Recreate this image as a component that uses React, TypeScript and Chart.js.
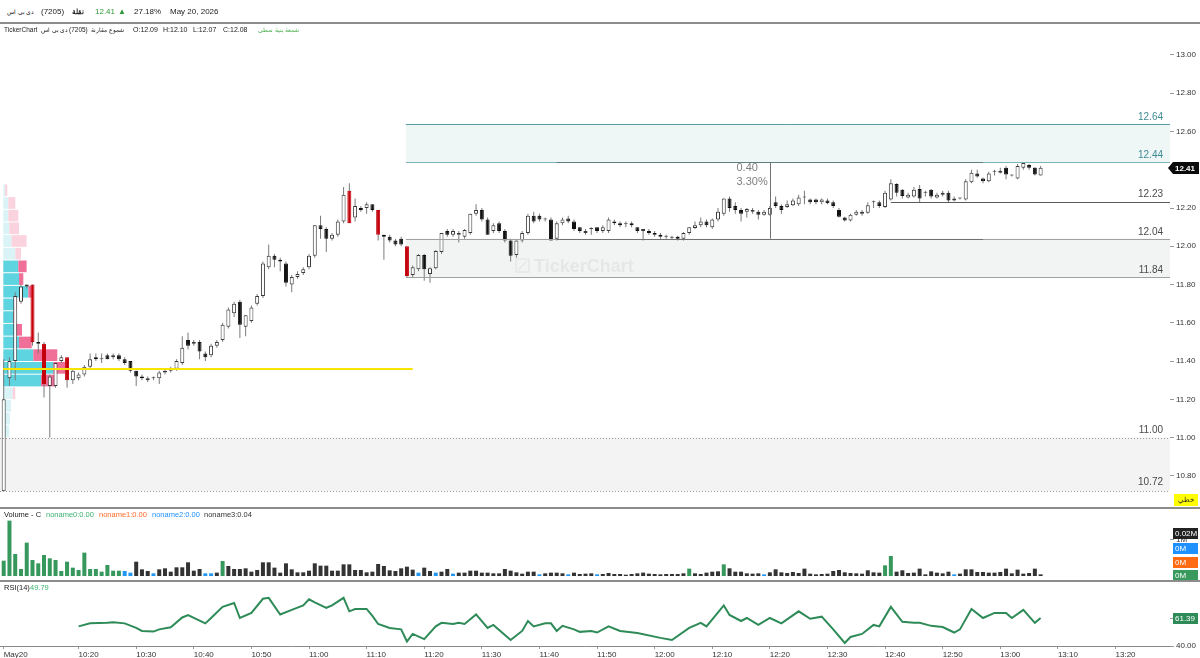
import React, { useEffect, useRef } from "react";
import { Chart, registerables } from "chart.js";

Chart.register(...registerables);

const FONT = '"Liberation Sans", Arial, sans-serif';

// ---------- price candles (1-minute) ----------
const candleOpen = [
  10.72, 11.31, 11.40, 11.71, 11.79, 11.80, 11.50, 11.49, 11.27, 11.27,
  11.40, 11.42, 11.30, 11.31, 11.33, 11.37, 11.42, 11.41, 11.43, 11.42,
  11.43, 11.41, 11.40, 11.35, 11.32, 11.30, 11.31, 11.31, 11.34, 11.35,
  11.36, 11.39, 11.51, 11.49, 11.50, 11.44, 11.43, 11.48, 11.51, 11.58,
  11.65, 11.71, 11.58, 11.61, 11.70, 11.74, 11.89, 11.95, 11.93, 11.91,
  11.80, 11.84, 11.86, 11.89, 11.95, 12.11, 12.09, 12.04, 12.06, 12.13,
  12.29, 12.15, 12.20, 12.20, 12.22, 12.19, 12.06, 12.05, 12.03, 12.04,
  12.00, 11.85, 11.88, 11.955, 11.855, 11.885, 11.97, 12.08, 12.06, 12.06,
  12.05, 12.07, 12.17, 12.19, 12.14, 12.08, 12.12, 12.08, 12.03, 11.955,
  12.03, 12.07, 12.16, 12.16, 12.14, 12.14, 12.04, 12.12, 12.145, 12.13,
  12.10, 12.07, 12.09, 12.10, 12.08, 12.08, 12.13, 12.12, 12.115, 12.12,
  12.10, 12.08, 12.08, 12.07, 12.06, 12.05, 12.045, 12.05, 12.04, 12.07,
  12.095, 12.11, 12.13, 12.10, 12.14, 12.17, 12.25, 12.21, 12.19, 12.18,
  12.18, 12.18, 12.165, 12.165, 12.23, 12.21, 12.205, 12.215, 12.22, 12.255,
  12.245, 12.245, 12.23, 12.24, 12.23, 12.19, 12.15, 12.135, 12.165, 12.17,
  12.175, 12.23, 12.23, 12.205, 12.245, 12.326, 12.295, 12.255, 12.26, 12.30,
  12.28, 12.295, 12.255, 12.27, 12.28, 12.24, 12.25, 12.245, 12.335, 12.38,
  12.355, 12.34, 12.39, 12.385, 12.41, 12.37, 12.355, 12.41, 12.425, 12.41, 12.37,
];
const candleHigh = [
  11.41, 11.42, 11.76, 11.80, 11.80, 11.80, 11.55, 11.50, 11.33, 11.39,
  11.43, 11.42, 11.36, 11.34, 11.38, 11.44, 11.44, 11.44, 11.44, 11.44,
  11.44, 11.42, 11.40, 11.35, 11.33, 11.32, 11.32, 11.35, 11.36, 11.37,
  11.41, 11.53, 11.55, 11.51, 11.51, 11.45, 11.49, 11.51, 11.60, 11.68,
  11.71, 11.72, 11.64, 11.69, 11.75, 11.92, 12.01, 11.96, 11.94, 11.92,
  11.85, 11.87, 11.89, 11.96, 12.11, 12.16, 12.10, 12.07, 12.14, 12.31,
  12.33, 12.25, 12.21, 12.23, 12.22, 12.19, 12.06, 12.06, 12.04, 12.05,
  12.00, 11.90, 11.96, 11.96, 11.89, 11.98, 12.07, 12.09, 12.09, 12.08,
  12.09, 12.17, 12.22, 12.20, 12.15, 12.12, 12.13, 12.09, 12.04, 12.03,
  12.08, 12.17, 12.18, 12.17, 12.15, 12.15, 12.13, 12.15, 12.16, 12.14,
  12.10, 12.09, 12.10, 12.10, 12.11, 12.15, 12.14, 12.13, 12.13, 12.13,
  12.10, 12.09, 12.09, 12.08, 12.07, 12.06, 12.055, 12.055, 12.075, 12.10,
  12.13, 12.15, 12.14, 12.145, 12.20, 12.25, 12.26, 12.23, 12.20, 12.20,
  12.20, 12.19, 12.19, 12.21, 12.26, 12.22, 12.24, 12.25, 12.27, 12.29,
  12.25, 12.25, 12.25, 12.25, 12.24, 12.20, 12.155, 12.17, 12.19, 12.19,
  12.23, 12.24, 12.24, 12.29, 12.35, 12.33, 12.30, 12.28, 12.31, 12.32,
  12.29, 12.30, 12.28, 12.29, 12.29, 12.26, 12.255, 12.35, 12.40, 12.40,
  12.36, 12.39, 12.40, 12.41, 12.42, 12.375, 12.43, 12.44, 12.43, 12.415, 12.42,
];
const candleLow = [
  10.72, 11.27, 11.30, 11.70, 11.78, 11.48, 11.44, 11.21, 11.00, 11.26,
  11.39, 11.26, 11.28, 11.30, 11.32, 11.36, 11.40, 11.39, 11.41, 11.41,
  11.40, 11.38, 11.34, 11.27, 11.30, 11.29, 11.30, 11.28, 11.33, 11.34,
  11.35, 11.38, 11.46, 11.48, 11.41, 11.40, 11.42, 11.47, 11.50, 11.57,
  11.63, 11.52, 11.53, 11.60, 11.69, 11.73, 11.88, 11.89, 11.87, 11.79,
  11.76, 11.83, 11.85, 11.88, 11.94, 12.04, 11.97, 12.03, 12.05, 12.12,
  12.12, 12.13, 12.18, 12.17, 12.18, 12.03, 11.93, 12.02, 12.00, 12.00,
  11.84, 11.84, 11.87, 11.82, 11.81, 11.88, 11.96, 12.05, 12.05, 12.02,
  12.04, 12.06, 12.16, 12.13, 12.06, 12.07, 12.07, 12.02, 11.92, 11.94,
  12.02, 12.06, 12.12, 12.13, 12.13, 12.03, 12.03, 12.11, 12.12, 12.08,
  12.07, 12.06, 12.06, 12.07, 12.07, 12.07, 12.11, 12.10, 12.10, 12.10,
  12.07, 12.03, 12.06, 12.05, 12.04, 12.04, 12.035, 12.03, 12.03, 12.06,
  12.09, 12.10, 12.10, 12.09, 12.13, 12.16, 12.18, 12.17, 12.13, 12.15,
  12.17, 12.14, 12.16, 12.16, 12.20, 12.17, 12.20, 12.21, 12.21, 12.22,
  12.22, 12.22, 12.22, 12.22, 12.20, 12.15, 12.13, 12.13, 12.16, 12.16,
  12.17, 12.20, 12.20, 12.20, 12.24, 12.26, 12.25, 12.25, 12.255, 12.23,
  12.26, 12.25, 12.25, 12.26, 12.23, 12.235, 12.245, 12.24, 12.33, 12.36,
  12.33, 12.335, 12.37, 12.38, 12.35, 12.365, 12.35, 12.40, 12.40, 12.37, 12.37,
];
const candleClose = [
  11.20, 11.40, 11.74, 11.79, 11.80, 11.50, 11.49, 11.28, 11.32, 11.39,
  11.42, 11.30, 11.35, 11.33, 11.37, 11.41, 11.41, 11.41, 11.41, 11.43,
  11.41, 11.39, 11.35, 11.32, 11.31, 11.31, 11.31, 11.34, 11.35, 11.36,
  11.40, 11.47, 11.48, 11.50, 11.45, 11.42, 11.48, 11.50, 11.59, 11.67,
  11.70, 11.59, 11.64, 11.68, 11.74, 11.91, 11.95, 11.93, 11.92, 11.81,
  11.84, 11.855, 11.88, 11.95, 12.11, 12.09, 12.04, 12.06, 12.13, 12.27,
  12.12, 12.21, 12.19, 12.22, 12.19, 12.06, 12.05, 12.03, 12.01, 12.01,
  11.845, 11.89, 11.955, 11.88, 11.885, 11.975, 12.07, 12.06, 12.08, 12.07,
  12.085, 12.17, 12.19, 12.14, 12.06, 12.11, 12.08, 12.03, 11.95, 12.03,
  12.07, 12.16, 12.13, 12.14, 12.14, 12.03, 12.12, 12.14, 12.13, 12.09,
  12.08, 12.08, 12.095, 12.08, 12.10, 12.14, 12.12, 12.11, 12.115, 12.11,
  12.08, 12.09, 12.07, 12.06, 12.05, 12.05, 12.045, 12.04, 12.07, 12.10,
  12.11, 12.13, 12.11, 12.14, 12.18, 12.25, 12.20, 12.19, 12.17, 12.195,
  12.19, 12.165, 12.18, 12.20, 12.21, 12.19, 12.22, 12.24, 12.255, 12.255,
  12.23, 12.23, 12.245, 12.225, 12.21, 12.155, 12.135, 12.165, 12.18, 12.18,
  12.215, 12.23, 12.21, 12.28, 12.33, 12.28, 12.263, 12.27, 12.295, 12.25,
  12.28, 12.26, 12.27, 12.28, 12.24, 12.25, 12.25, 12.34, 12.385, 12.365,
  12.34, 12.38, 12.39, 12.395, 12.375, 12.37, 12.42, 12.435, 12.41, 12.375, 12.41,
];
const redCandleIndex = [5, 7, 11, 60, 65, 70];

// ---------- volume (thousand shares) ----------
const volumeK = [
  426, 1538, 612, 195, 927, 445, 352, 584, 491, 445,
  139, 398, 232, 167, 649, 195, 195, 120, 306, 148,
  148, 139, 93, 398, 185, 139, 74, 185, 213, 120,
  241, 241, 380, 148, 195, 74, 74, 93, 417, 278,
  195, 195, 213, 120, 167, 380, 380, 232, 93, 352,
  185, 102, 102, 148, 352, 287, 287, 148, 148, 324,
  324, 167, 167, 102, 120, 334, 278, 158, 139, 213,
  259, 176, 93, 232, 139, 93, 120, 195, 65, 93,
  93, 148, 148, 93, 93, 74, 74, 195, 148, 102,
  65, 120, 120, 46, 74, 93, 93, 74, 46, 93,
  56, 65, 74, 46, 56, 83, 56, 56, 37, 56,
  74, 93, 65, 56, 46, 56, 56, 56, 74, 204,
  74, 56, 93, 120, 130, 324, 213, 120, 120, 74,
  65, 74, 46, 102, 185, 102, 83, 111, 83, 204,
  65, 46, 56, 65, 139, 167, 102, 83, 74, 65,
  158, 102, 93, 296, 556, 120, 158, 83, 93, 204,
  46, 130, 93, 74, 120, 46, 65, 185, 185, 111,
  111, 93, 93, 111, 204, 74, 176, 65, 83, 204, 46,
];
const greenVolumeIndex = [0, 1, 2, 3, 4, 5, 6, 7, 8, 9, 10, 11, 12, 13, 14, 15, 16, 17, 18, 19, 20, 38, 119, 125, 153, 154];
const blueVolumeIndex = [21, 22, 26, 35, 36, 72, 75, 78, 93, 98, 103, 132, 165];

// ---------- RSI(14) read points ----------
const rsiIndex = [13, 15, 18, 19, 21, 23, 24, 26, 27, 29, 31, 32, 35, 36, 38, 40, 41, 43, 45, 46, 48, 50, 52, 53, 54, 56, 57, 59, 60, 61, 63, 64, 65, 67, 69, 70, 71, 73, 75, 76, 78, 79, 80, 82, 84, 85, 88, 90, 91, 92, 94, 95, 96, 97, 99, 100, 102, 103, 105, 107, 110, 114, 116, 119, 121, 122, 125, 126, 128, 129, 131, 133, 135, 138, 140, 142, 144, 146, 147, 149, 151, 152, 154, 156, 158, 159, 161, 163, 165, 166, 168, 170, 172, 174, 175, 177, 179, 180];
const rsiValue = [55.0, 57.3, 57.7, 58.2, 57.3, 53.8, 51.5, 51.0, 52.7, 54.3, 61.8, 63.7, 57.3, 61.4, 69.9, 72.9, 61.4, 65.3, 76.1, 76.8, 64.1, 67.6, 71.0, 75.7, 73.4, 69.2, 71.0, 76.8, 66.5, 68.3, 68.3, 63.0, 56.8, 53.8, 52.7, 43.4, 49.2, 45.3, 55.0, 57.7, 56.8, 57.7, 56.8, 64.1, 53.8, 56.1, 44.6, 51.5, 59.1, 55.0, 57.3, 57.3, 51.5, 55.4, 52.7, 50.8, 51.5, 50.3, 55.0, 51.5, 49.9, 46.2, 44.6, 53.8, 57.7, 55.0, 71.0, 63.7, 59.1, 61.4, 56.1, 61.4, 57.3, 66.5, 60.8, 62.4, 52.7, 42.3, 46.9, 49.2, 56.1, 55.0, 69.9, 58.5, 57.7, 57.7, 55.4, 54.5, 50.3, 52.7, 68.3, 61.4, 65.3, 65.3, 61.4, 67.6, 57.7, 61.39];

// ---------- volume profile (bottom row first) ----------
const profileBottom = 11.0;
const profileStep = 0.0663;
const profileUp = [60, 67, 77, 93, 377, 500, 300, 157, 127, 100, 107, 250, 157, 150, 120, 83, 60, 50, 50, 17];
const profileDown = [0, 0, 0, 27, 140, 117, 240, 127, 60, 27, 27, 33, 43, 83, 57, 150, 97, 100, 70, 23];
const valueAreaRows = [4, 13];

// ---------- axes ----------
const priceTicks = [10.8, 11.0, 11.2, 11.4, 11.6, 11.8, 12.0, 12.2, 12.4, 12.6, 12.8, 13.0];
const timeTickIndex = [0, 13, 23, 33, 43, 53, 63, 73, 83, 93, 103, 113, 123, 133, 143, 153, 163, 173, 183, 193];
const timeTickLabels = ["May20", "10:20", "10:30", "10:40", "10:50", "11:00", "11:10", "11:20", "11:30", "11:40", "11:50", "12:00", "12:10", "12:20", "12:30", "12:40", "12:50", "13:00", "13:10", "13:20"];

// ---------- drawings ----------
const tealZone = [12.44, 12.64];
const grayZone = [11.84, 12.04];
const lowerZone = [10.72, 11.0];
const supportLevel = 12.23;
const yellowLevel = 11.36;
const measureLabels = ["0.40", "3.30%"];
const zoneStartIndex = 69.8;
const measureFrom = 96;
const measureTo = 170;
const measureAt = 133;
const supportFrom = 154;
const yellowTo = 71;

const X_MIN = -0.642;
const X_MAX = 202.46;

const hline = (ctx: any, x0: number, x1: number, y: number, color: string, width = 1, dash: number[] = []) => {
  ctx.save();
  ctx.strokeStyle = color;
  ctx.lineWidth = width;
  ctx.setLineDash(dash);
  const yy = width % 2 === 1 ? Math.round(y) + 0.5 : Math.round(y);
  ctx.beginPath();
  ctx.moveTo(x0, yy);
  ctx.lineTo(x1, yy);
  ctx.stroke();
  ctx.restore();
};

const mainOverlay = {
  id: "mainOverlay",
  beforeDatasetsDraw(chart: any) {
    const { ctx, chartArea: a, scales } = chart;
    const x = scales.x, y = scales.y, xp = scales.xProfile;
    const py = (p: number) => y.getPixelForValue(p);
    const zx = x.getPixelForValue(zoneStartIndex);
    ctx.save();
    ctx.fillStyle = "#f3f3f3";
    ctx.fillRect(a.left, py(lowerZone[1]), a.right - a.left, py(lowerZone[0]) - py(lowerZone[1]));
    ctx.fillStyle = "#eef6f6";
    ctx.fillRect(zx, py(tealZone[1]), a.right - zx, py(tealZone[0]) - py(tealZone[1]));
    ctx.fillStyle = "#f2f4f4";
    ctx.fillRect(zx, py(grayZone[1]), a.right - zx, py(grayZone[0]) - py(grayZone[1]));

    // watermark
    ctx.fillStyle = "#e6e6e6";
    ctx.strokeStyle = "#e6e6e6";
    ctx.lineWidth = 1.5;
    ctx.strokeRect(516, 235, 13, 13);
    ctx.beginPath();
    ctx.moveTo(518, 246);
    ctx.lineTo(527, 237);
    ctx.stroke();
    ctx.font = `bold 18px ${FONT}`;
    ctx.textAlign = "left";
    ctx.textBaseline = "middle";
    ctx.fillText("TickerChart", 534, 243);

    // volume profile
    for (let r = 0; r < profileUp.length; r++) {
      const lo = profileBottom + r * profileStep;
      const hi = lo + profileStep;
      const y0 = py(hi) + 0.5;
      const y1 = py(lo) - 0.5;
      const x0 = xp.getPixelForValue(0);
      const x1 = xp.getPixelForValue(profileUp[r]);
      const x2 = xp.getPixelForValue(profileUp[r] + profileDown[r]);
      const inVA = r >= valueAreaRows[0] && r <= valueAreaRows[1];
      ctx.fillStyle = inVA ? "#5fd4e1" : "#d9f3f6";
      ctx.fillRect(x0, y0, x1 - x0, y1 - y0);
      ctx.fillStyle = inVA ? "#ef6f98" : "#fbd3df";
      ctx.fillRect(x1, y0, x2 - x1, y1 - y0);
    }
    ctx.restore();
  },
  afterDatasetsDraw(chart: any) {
    const { ctx, chartArea: a, scales } = chart;
    const x = scales.x, y = scales.y;
    const py = (p: number) => y.getPixelForValue(p);
    const zx = x.getPixelForValue(zoneStartIndex);
    const mx0 = x.getPixelForValue(measureFrom);
    const mx1 = x.getPixelForValue(measureTo);

    hline(ctx, a.left, a.right, py(lowerZone[1]), "#9a9a9a", 1, [1, 2]);
    hline(ctx, a.left, a.right, py(lowerZone[0]), "#9a9a9a", 1, [1, 2]);
    hline(ctx, zx, a.right, py(tealZone[1]), "#5b9ca2", 1);
    hline(ctx, zx, a.right, py(tealZone[0]), "#7fb3b8", 1);
    hline(ctx, zx, a.right, py(grayZone[1]), "#a0a0a0", 1);
    hline(ctx, zx, a.right, py(grayZone[0]), "#a0a0a0", 1);
    hline(ctx, mx0, mx1, py(tealZone[0]), "#5f7f82", 1);
    hline(ctx, mx0, mx1, py(grayZone[1]), "#707070", 1);
    hline(ctx, x.getPixelForValue(supportFrom), a.right, py(supportLevel), "#5a5a5a", 1);
    hline(ctx, a.left + 3, x.getPixelForValue(yellowTo), py(yellowLevel), "#f7e400", 2);

    // measure vertical
    const vx = Math.round(x.getPixelForValue(measureAt)) + 0.5;
    ctx.save();
    ctx.strokeStyle = "#707070";
    ctx.lineWidth = 1;
    ctx.beginPath();
    ctx.moveTo(vx, py(tealZone[0]));
    ctx.lineTo(vx, py(grayZone[1]));
    ctx.stroke();

    ctx.font = `11px ${FONT}`;
    ctx.fillStyle = "#808080";
    ctx.textAlign = "left";
    ctx.textBaseline = "middle";
    ctx.fillText(measureLabels[0], vx - 34, py(tealZone[0]) + 6);
    ctx.fillText(measureLabels[1], vx - 34, py(tealZone[0]) + 20);

    // level labels
    ctx.font = `10px ${FONT}`;
    ctx.textAlign = "right";
    ctx.textBaseline = "alphabetic";
    const lx = a.right - 7;
    ctx.fillStyle = "#3f8a92";
    ctx.fillText(tealZone[1].toFixed(2), lx, py(tealZone[1]) - 4);
    ctx.fillText(tealZone[0].toFixed(2), lx, py(tealZone[0]) - 4);
    ctx.fillStyle = "#4a4a4a";
    ctx.fillText(supportLevel.toFixed(2), lx, py(supportLevel) - 5);
    ctx.fillText(grayZone[1].toFixed(2), lx, py(grayZone[1]) - 4);
    ctx.fillText(grayZone[0].toFixed(2), lx, py(grayZone[0]) - 4);
    ctx.fillText(lowerZone[1].toFixed(2), lx, py(lowerZone[1]) - 5);
    ctx.fillText(lowerZone[0].toFixed(2), lx, py(lowerZone[0]) - 6);

    // last price tag
    const last = candleClose[candleClose.length - 1];
    const ly = Math.round(py(last));
    ctx.fillStyle = "#0a0a0a";
    ctx.beginPath();
    ctx.moveTo(a.right - 2, ly);
    ctx.lineTo(a.right + 3, ly - 6);
    ctx.lineTo(a.right + 29, ly - 6);
    ctx.lineTo(a.right + 29, ly + 6);
    ctx.lineTo(a.right + 3, ly + 6);
    ctx.closePath();
    ctx.fill();
    ctx.fillStyle = "#ffffff";
    ctx.font = `bold 8px ${FONT}`;
    ctx.textAlign = "left";
    ctx.textBaseline = "middle";
    ctx.fillText(last.toFixed(2), a.right + 5, ly + 0.5);

    // yellow chart-type tag
    ctx.fillStyle = "#ffff00";
    ctx.fillRect(a.right + 4, a.bottom - 14, 24, 12);
    ctx.fillStyle = "#222";
    ctx.font = `7px ${FONT}`;
    ctx.textAlign = "center";
    ctx.fillText("خطي", a.right + 16, a.bottom - 8);
    ctx.restore();
  },
};

const volumeOverlay = {
  id: "volumeOverlay",
  afterDatasetsDraw(chart: any) {
    const { ctx, chartArea: a, scales } = chart;
    const zeroY = Math.round(scales.y.getPixelForValue(0));
    const tags = [
      { text: "0M", bg: "#3a9a5e", dy: 0 },
      { text: "0M", bg: "#ff6a13", dy: -13 },
      { text: "0M", bg: "#1e90ff", dy: -27 },
      { text: "0.02M", bg: "#222222", dy: -42 },
    ];
    ctx.save();
    ctx.font = `8px ${FONT}`;
    ctx.textBaseline = "middle";
    ctx.textAlign = "left";
    for (const t of tags) {
      const cy = zeroY - 1 + t.dy;
      ctx.fillStyle = t.bg;
      ctx.fillRect(a.right + 3, cy - 5, 25, 11);
      ctx.fillStyle = "#ffffff";
      ctx.fillText(t.text, a.right + 5, cy + 0.5);
    }
    ctx.restore();
  },
};

const rsiOverlay = {
  id: "rsiOverlay",
  afterDatasetsDraw(chart: any) {
    const { ctx, chartArea: a, scales } = chart;
    const lastVal = rsiValue[rsiValue.length - 1];
    const cy = Math.round(scales.y.getPixelForValue(lastVal));
    ctx.save();
    ctx.strokeStyle = "#999";
    ctx.beginPath();
    ctx.moveTo(a.right, cy + 0.5);
    ctx.lineTo(a.right + 4, cy + 0.5);
    ctx.stroke();
    ctx.fillStyle = "#2e8b57";
    ctx.fillRect(a.right + 3, cy - 5, 25, 11);
    ctx.fillStyle = "#ffffff";
    ctx.font = `8px ${FONT}`;
    ctx.textBaseline = "middle";
    ctx.textAlign = "left";
    ctx.fillText(lastVal.toFixed(2), a.right + 5, cy + 0.5);
    ctx.restore();
  },
};

const noPad = (s: any) => {
  s.paddingTop = 0;
  s.paddingBottom = 0;
  s.paddingLeft = 0;
  s.paddingRight = 0;
};

const xScale = (extra: any = {}) => ({
  type: "linear",
  min: X_MIN,
  max: X_MAX,
  offset: false,
  display: false,
  grid: { offset: false },
  afterFit: noPad,
  ...extra,
});

const rightAxis = (extra: any = {}) => ({
  position: "right",
  afterFit: (s: any) => {
    s.width = 30;
    noPad(s);
  },
  grid: { drawOnChartArea: false, drawTicks: true, tickLength: 4, color: "#999" },
  border: { display: false },
  ...extra,
});

export default function App() {
  const mainRef = useRef<HTMLCanvasElement>(null);
  const volRef = useRef<HTMLCanvasElement>(null);
  const rsiRef = useRef<HTMLCanvasElement>(null);

  useEffect(() => {
    const idx = candleOpen.map((_, i) => i);
    const bodyFill = idx.map((i) =>
      redCandleIndex.includes(i) ? "#c4000b" : candleClose[i] >= candleOpen[i] ? "#ffffff" : "#111111"
    );
    const bodyBorder = idx.map((i) =>
      redCandleIndex.includes(i) ? "#c4000b" : candleClose[i] >= candleOpen[i] ? "#3a3a3a" : "#111111"
    );

    const main = new Chart(mainRef.current as HTMLCanvasElement, {
      type: "bar",
      data: {
        datasets: [
          {
            label: "wick",
            data: idx.map((i) => ({ x: i, y: [candleLow[i], candleHigh[i]] })) as any,
            backgroundColor: "#7a7a7a",
            barThickness: 1,
            grouped: false,
            inflateAmount: 0,
            order: 2,
          } as any,
          {
            label: "body",
            data: idx.map((i) => ({ x: i, y: [candleOpen[i], candleClose[i]] })) as any,
            backgroundColor: bodyFill,
            borderColor: bodyBorder,
            borderWidth: 1,
            borderSkipped: false,
            barThickness: 4,
            minBarLength: 1,
            grouped: false,
            inflateAmount: 0,
            order: 1,
          } as any,
        ],
      },
      options: {
        animation: false,
        responsive: false,
        devicePixelRatio: 1,
        events: [],
        layout: { padding: 0 },
        plugins: { legend: { display: false }, tooltip: { enabled: false } },
        scales: {
          x: xScale() as any,
          xProfile: {
            type: "linear",
            axis: "x",
            position: "top",
            min: -33,
            max: 11667,
            offset: false,
            grid: { offset: false },
            display: false,
            afterFit: noPad,
          } as any,
          y: rightAxis({
            min: 10.632,
            max: 13.162,
            afterBuildTicks: (s: any) => {
              s.ticks = priceTicks.map((v) => ({ value: v }));
            },
            ticks: {
              font: { size: 8, family: FONT },
              color: "#333",
              padding: 2,
              callback: (v: any) => Number(v).toFixed(2),
            },
          }) as any,
        },
      },
      plugins: [mainOverlay],
    });

    const volColors = volumeK.map((_, i) =>
      greenVolumeIndex.includes(i) ? "#36985c" : blueVolumeIndex.includes(i) ? "#2196f3" : "#333333"
    );
    const vol = new Chart(volRef.current as HTMLCanvasElement, {
      type: "bar",
      data: {
        datasets: [
          {
            label: "volume",
            data: volumeK.map((v, i) => ({ x: i, y: v })) as any,
            backgroundColor: volColors,
            barThickness: 4,
            grouped: false,
            inflateAmount: 0,
          } as any,
        ],
      },
      options: {
        animation: false,
        responsive: false,
        devicePixelRatio: 1,
        events: [],
        layout: { padding: 0 },
        plugins: { legend: { display: false }, tooltip: { enabled: false } },
        scales: {
          x: xScale() as any,
          y: rightAxis({
            min: -139,
            max: 1861,
            afterBuildTicks: (s: any) => {
              s.ticks = [{ value: 1000 }];
            },
            ticks: { font: { size: 8, family: FONT }, color: "#333", padding: 2, callback: () => "1M" },
          }) as any,
        },
      },
      plugins: [volumeOverlay],
    });

    const rsi = new Chart(rsiRef.current as HTMLCanvasElement, {
      type: "line",
      data: {
        datasets: [
          {
            label: "RSI(14)",
            data: rsiIndex.map((ix, k) => ({ x: ix, y: rsiValue[k] })) as any,
            borderColor: "#2e8b57",
            borderWidth: 2,
            pointRadius: 0,
            tension: 0,
            fill: false,
          },
        ],
      },
      options: {
        animation: false,
        responsive: false,
        devicePixelRatio: 1,
        events: [],
        layout: { padding: 0 },
        plugins: { legend: { display: false }, tooltip: { enabled: false } },
        scales: {
          x: xScale({
            display: true,
            afterBuildTicks: (s: any) => {
              s.ticks = timeTickIndex.map((v) => ({ value: v }));
            },
            afterFit: (s: any) => {
              s.height = 12;
              noPad(s);
            },
            grid: { drawOnChartArea: false, drawTicks: true, tickLength: 3, color: "#999", offset: false },
            border: { display: true, color: "#8a8a8a" },
            ticks: {
              autoSkip: false,
              maxRotation: 0,
              align: "start",
              padding: 1,
              font: { size: 8, family: FONT },
              color: "#333",
              callback: (_v: any, i: number) => timeTickLabels[i],
            },
          }) as any,
          y: rightAxis({
            min: 40,
            max: 88.9,
            afterBuildTicks: (s: any) => {
              s.ticks = [{ value: 40 }];
            },
            ticks: { font: { size: 8, family: FONT }, color: "#333", padding: 2, callback: (v: any) => Number(v).toFixed(2) },
          }) as any,
        },
      },
      plugins: [rsiOverlay],
    });

    return () => {
      main.destroy();
      vol.destroy();
      rsi.destroy();
    };
  }, []);

  const txt = (left: number, top: number, content: React.ReactNode, style: React.CSSProperties = {}, rtl = false) => (
    <div
      dir={rtl ? "rtl" : "ltr"}
      style={{
        position: "absolute",
        left,
        top,
        whiteSpace: "nowrap",
        fontFamily: FONT,
        fontSize: 8,
        lineHeight: "10px",
        color: "#222",
        ...style,
      }}
    >
      {content}
    </div>
  );

  return (
    <div style={{ position: "fixed", left: 0, top: 0, width: 1200, height: 658, background: "#fff", overflow: "hidden" }}>
      <canvas ref={mainRef} width={1200} height={484} style={{ position: "absolute", left: 0, top: 24, display: "block" }} />
      <canvas ref={volRef} width={1200} height={72} style={{ position: "absolute", left: 0, top: 509, display: "block" }} />
      <canvas ref={rsiRef} width={1200} height={76} style={{ position: "absolute", left: 0, top: 582, display: "block" }} />

      {/* dividers */}
      <div style={{ position: "absolute", left: 0, top: 22, width: 1200, height: 2, background: "#8c8c8c" }} />
      <div style={{ position: "absolute", left: 0, top: 507, width: 1200, height: 2, background: "#8c8c8c" }} />
      <div style={{ position: "absolute", left: 0, top: 580, width: 1200, height: 2, background: "#8c8c8c" }} />

      {/* header row */}
      {txt(7, 7, "دي بي اس", { fontSize: 6 }, true)}
      {txt(41, 7, "(7205)", { fontSize: 8 })}
      {txt(72, 7, "نقلة", { fontSize: 7, fontWeight: "bold" }, true)}
      {txt(95, 7, "12.41", { fontSize: 8, color: "#2e9a3a" })}
      {txt(118, 7, "▲", { fontSize: 8, color: "#2e9a3a" })}
      {txt(134, 7, "27.18%", { fontSize: 8 })}
      {txt(170, 7, "May 20, 2026", { fontSize: 8 })}

      {/* legend row */}
      {txt(4, 25, "TickerChart", { fontSize: 6.5 })}
      {txt(41, 25, "دي بي اس", { fontSize: 5.5 }, true)}
      {txt(69, 25, "(7205)", { fontSize: 6.5 })}
      {txt(91, 25, "شموع مقارنة", { fontSize: 5.5 }, true)}
      {txt(133, 25, "O:12.09", { fontSize: 7 })}
      {txt(163, 25, "H:12.10", { fontSize: 7 })}
      {txt(193, 25, "L:12.07", { fontSize: 7 })}
      {txt(223, 25, "C:12.08", { fontSize: 7 })}
      {txt(258, 25, "شمعة بنية نمطي", { fontSize: 5.5, color: "#4caf50" }, true)}

      {/* volume legend */}
      {txt(4, 510, "Volume - C", { fontSize: 7.5 })}
      {txt(46, 510, "noname0:0.00", { fontSize: 7.5, color: "#3cb371" })}
      {txt(99, 510, "noname1:0.00", { fontSize: 7.5, color: "#ff6a2a" })}
      {txt(152, 510, "noname2:0.00", { fontSize: 7.5, color: "#1e90ff" })}
      {txt(204, 510, "noname3:0.04", { fontSize: 7.5, color: "#333" })}

      {/* RSI legend */}
      {txt(4, 583, "RSI(14)", { fontSize: 7.5 })}
      {txt(30, 583, "49.79", { fontSize: 7.5, color: "#3cb371" })}
    </div>
  );
}
